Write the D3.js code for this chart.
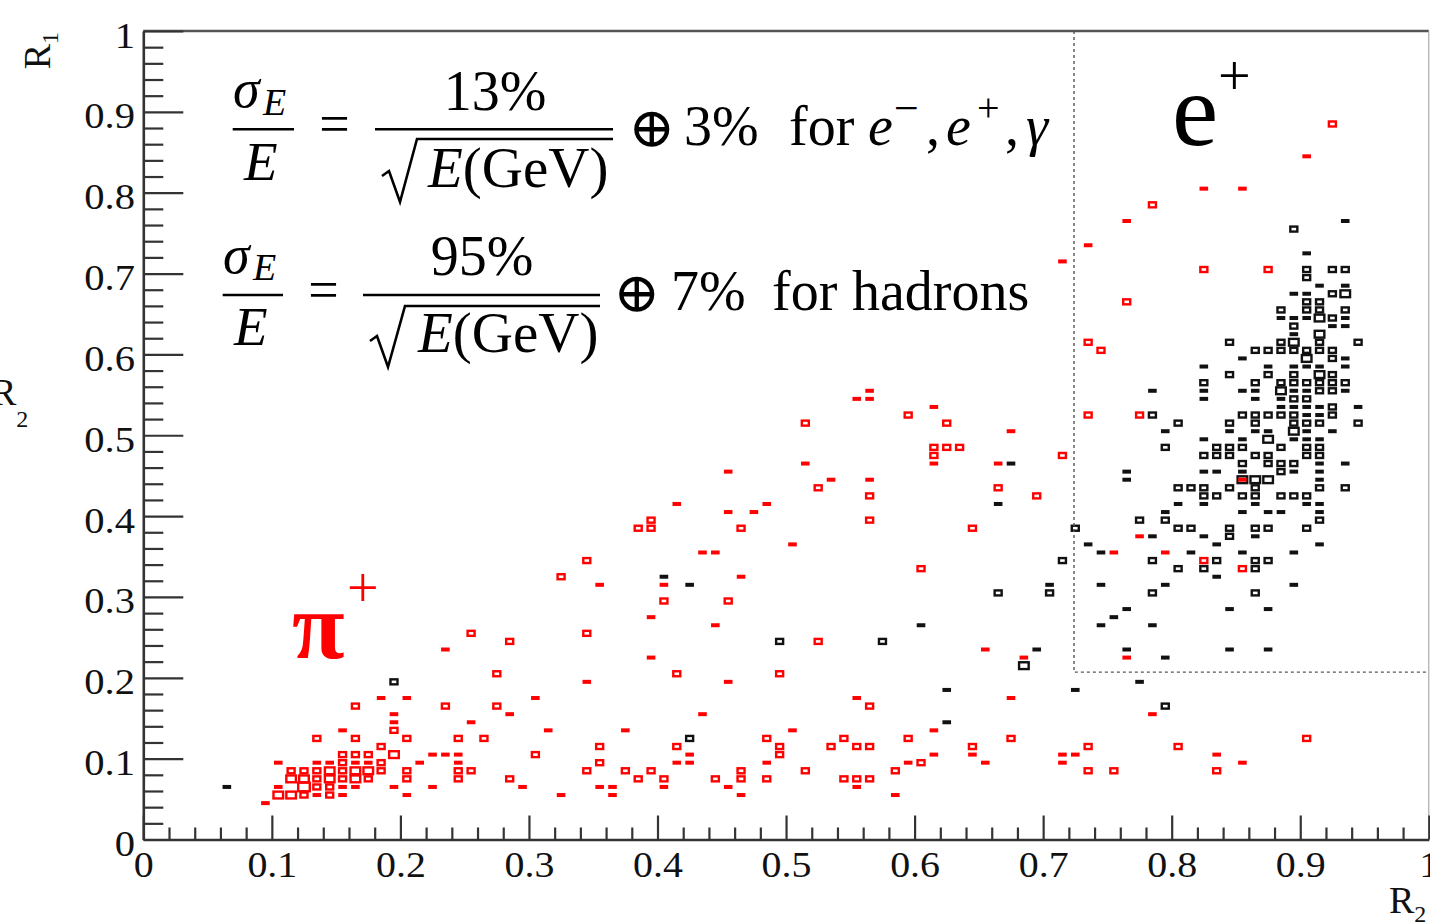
<!DOCTYPE html>
<html>
<head>
<meta charset="utf-8">
<script src="https://cdn.jsdelivr.net/npm/d3@7"></script>
<style>
  html, body { margin: 0; padding: 0; background: #fff; overflow: hidden; }
  svg { display: block; font-family: "Liberation Serif", "Times New Roman", serif; }
</style>
</head>
<body>
<svg id="chart" width="1430" height="922"></svg>
<script>
// 2D histogram, 100 x 100 bins on [0,1] x [0,1]; each entry = [R2 bin low edge, R1 bin low edge, entries]
const binWidth = 0.01;

const majorTicks = [0, 0.1, 0.2, 0.3, 0.4, 0.5, 0.6, 0.7, 0.8, 0.9, 1];
const xTickLabels = ["0", "0.1", "0.2", "0.3", "0.4", "0.5", "0.6", "0.7", "0.8", "0.9", "1"];
const yTickLabels = ["0", "0.1", "0.2", "0.3", "0.4", "0.5", "0.6", "0.7", "0.8", "0.9", "1"];

// pi+ (red)
const pionBins = [
  [0.25,0.25,2],[0.23,0.23,1],[0.23,0.16,2],[0.25,0.14,1],[0.18,0.17,1],[0.20,0.17,1],[0.16,0.16,2],
  [0.19,0.15,1],[0.19,0.14,1],[0.19,0.13,2],[0.15,0.13,1],[0.13,0.12,2],[0.16,0.12,2],[0.20,0.12,2],
  [0.24,0.12,2],[0.26,0.12,2],[0.27,0.16,2],[0.18,0.11,2],
  [0.15,0.10,2],[0.16,0.10,2],[0.17,0.10,2],[0.19,0.10,3],[0.22,0.10,1],[0.23,0.10,1],[0.24,0.10,1],
  [0.10,0.09,1],[0.13,0.09,1],[0.14,0.09,1],[0.15,0.09,2],[0.16,0.09,1],[0.17,0.09,1],[0.18,0.09,2],
  [0.21,0.09,1],[0.24,0.09,1],
  [0.11,0.08,2],[0.12,0.08,2],[0.13,0.08,2],[0.14,0.08,3],[0.15,0.08,2],[0.16,0.08,3],[0.17,0.08,3],
  [0.18,0.08,2],[0.20,0.08,2],[0.24,0.08,2],[0.25,0.08,2],
  [0.11,0.07,3],[0.12,0.07,3],[0.13,0.07,2],[0.14,0.07,3],[0.15,0.07,2],[0.16,0.07,3],[0.17,0.07,2],
  [0.20,0.07,2],[0.24,0.07,2],
  [0.10,0.06,1],[0.12,0.06,4],[0.13,0.06,2],[0.14,0.06,2],[0.15,0.06,1],[0.16,0.06,1],[0.19,0.06,1],
  [0.22,0.06,1],
  [0.10,0.05,3],[0.11,0.05,3],[0.12,0.05,2],[0.13,0.05,1],[0.14,0.05,2],[0.15,0.05,1],[0.20,0.05,1],
  [0.09,0.04,1],
  [0.45,0.45,1],[0.41,0.41,1],[0.45,0.40,1],[0.47,0.40,1],[0.39,0.39,2],[0.38,0.38,2],[0.39,0.38,2],
  [0.46,0.38,2],[0.43,0.35,1],[0.44,0.35,1],[0.34,0.34,2],[0.32,0.32,2],[0.35,0.31,1],[0.40,0.31,1],
  [0.46,0.32,1],[0.40,0.29,2],[0.45,0.29,2],[0.39,0.27,1],[0.44,0.26,1],[0.34,0.25,2],[0.28,0.24,2],
  [0.39,0.22,1],[0.27,0.20,2],[0.41,0.20,2],[0.34,0.19,1],[0.45,0.19,1],[0.30,0.17,1],[0.28,0.15,1],
  [0.43,0.15,1],[0.31,0.13,1],[0.37,0.13,1],[0.35,0.11,2],[0.41,0.11,2],[0.30,0.10,2],[0.42,0.10,1],
  [0.35,0.09,2],[0.41,0.09,1],[0.42,0.09,1],[0.34,0.08,2],[0.37,0.08,2],[0.39,0.08,2],[0.46,0.08,2],
  [0.28,0.07,2],[0.38,0.07,2],[0.40,0.07,2],[0.44,0.07,2],[0.46,0.07,2],[0.29,0.06,1],[0.35,0.06,1],
  [0.36,0.06,1],[0.40,0.06,1],[0.45,0.06,1],[0.32,0.05,1],[0.36,0.05,1],[0.46,0.05,1],
  [0.56,0.55,1],[0.55,0.54,1],[0.56,0.54,1],[0.61,0.53,1],[0.59,0.52,2],[0.51,0.51,2],[0.62,0.51,2],
  [0.67,0.50,1],[0.61,0.48,2],[0.62,0.48,2],[0.63,0.48,2],[0.61,0.47,2],[0.71,0.47,2],[0.51,0.46,1],
  [0.61,0.46,1],[0.66,0.46,1],[0.53,0.44,1],[0.56,0.44,1],[0.52,0.43,2],[0.66,0.43,2],[0.56,0.42,2],
  [0.69,0.42,2],[0.48,0.41,1],[0.56,0.39,2],[0.64,0.38,2],[0.50,0.36,1],[0.60,0.33,2],[0.52,0.24,2],
  [0.65,0.23,1],[0.68,0.22,1],[0.49,0.20,2],[0.55,0.17,1],[0.67,0.17,1],[0.56,0.16,2],[0.50,0.13,1],
  [0.61,0.13,1],[0.48,0.12,2],[0.54,0.12,2],[0.59,0.12,2],[0.67,0.12,2],[0.49,0.11,2],[0.53,0.11,2],
  [0.55,0.11,2],[0.56,0.11,2],[0.64,0.11,2],[0.49,0.10,2],[0.61,0.10,1],[0.64,0.10,1],[0.71,0.10,1],
  [0.72,0.10,1],[0.48,0.09,1],[0.59,0.09,1],[0.60,0.09,2],[0.65,0.09,1],[0.71,0.09,1],[0.51,0.08,2],
  [0.58,0.08,2],[0.48,0.07,2],[0.54,0.07,2],[0.55,0.07,2],[0.56,0.07,2],[0.55,0.06,1],[0.58,0.05,1],
  [0.73,0.11,2],[0.73,0.08,2],[0.75,0.08,2],[0.78,0.15,1],[0.80,0.11,2],[0.83,0.10,1],[0.83,0.08,2],
  [0.85,0.09,1],[0.90,0.12,2],
  [0.92,0.88,2],[0.90,0.84,1],[0.82,0.80,1],[0.85,0.80,1],[0.78,0.78,2],[0.76,0.76,1],[0.73,0.73,1],
  [0.71,0.71,1],[0.82,0.70,2],[0.87,0.70,2],[0.76,0.66,2],[0.73,0.61,2],[0.74,0.60,2],[0.73,0.52,2],
  [0.77,0.52,2],[0.77,0.37,1],[0.75,0.35,1],[0.79,0.35,1],[0.82,0.34,2],[0.85,0.33,2],[0.76,0.22,1],
  [0.85,0.44,1]
];

// e+ (black)
const positronBins = [
  [0.06,0.06,1],[0.19,0.19,2],[0.40,0.32,1],[0.42,0.31,1],[0.42,0.12,2],[0.49,0.24,2],[0.57,0.24,2],
  [0.60,0.26,1],[0.62,0.18,1],[0.62,0.14,1],[0.66,0.30,2],[0.70,0.31,1],[0.70,0.30,2],[0.71,0.34,2],
  [0.72,0.38,2],[0.66,0.41,1],[0.67,0.46,1],[0.69,0.23,1],[0.68,0.21,3],[0.72,0.18,1],[0.79,0.16,2],
  [0.77,0.19,1],
  [0.89,0.75,2],[0.93,0.76,1],[0.90,0.72,1],[0.90,0.70,2],[0.92,0.70,2],[0.93,0.70,2],[0.90,0.69,2],
  [0.91,0.68,1],[0.93,0.68,1],[0.89,0.67,1],[0.90,0.67,1],[0.92,0.67,2],[0.93,0.67,3],[0.90,0.66,2],
  [0.91,0.66,2],
  [0.88,0.65,2],[0.90,0.65,2],[0.91,0.65,2],[0.93,0.65,2],
  [0.88,0.64,1],[0.89,0.64,1],[0.90,0.64,1],[0.91,0.64,3],[0.92,0.64,2],[0.93,0.64,1],
  [0.89,0.63,2],[0.92,0.63,1],[0.93,0.63,1],
  [0.89,0.62,1],[0.91,0.62,3],
  [0.84,0.61,2],[0.88,0.61,2],[0.89,0.61,3],[0.91,0.61,2],[0.94,0.61,2],
  [0.86,0.60,2],[0.87,0.60,2],[0.88,0.60,2],[0.89,0.60,2],[0.90,0.60,2],[0.91,0.60,2],[0.92,0.60,2],
  [0.85,0.59,1],[0.90,0.59,3],[0.92,0.59,2],[0.93,0.59,1],
  [0.82,0.58,1],[0.87,0.58,1],[0.89,0.58,1],[0.90,0.58,1],[0.91,0.58,1],[0.93,0.58,1],
  [0.84,0.57,2],[0.87,0.57,2],[0.89,0.57,2],[0.91,0.57,3],[0.92,0.57,2],
  [0.82,0.56,2],[0.86,0.56,2],[0.88,0.56,2],[0.89,0.56,2],[0.90,0.56,2],[0.91,0.56,2],[0.92,0.56,2],
  [0.93,0.56,2],
  [0.78,0.55,1],[0.82,0.55,1],[0.85,0.55,1],[0.86,0.55,1],[0.88,0.55,3],[0.89,0.55,1],[0.90,0.55,1],
  [0.91,0.55,2],[0.92,0.55,2],[0.93,0.55,1],
  [0.82,0.54,1],[0.86,0.54,1],[0.88,0.54,1],[0.89,0.54,2],[0.90,0.54,2],
  [0.88,0.53,1],[0.89,0.53,1],[0.90,0.53,1],[0.91,0.53,1],[0.92,0.53,2],[0.94,0.53,1],
  [0.78,0.52,2],[0.85,0.52,2],[0.86,0.52,2],[0.87,0.52,2],[0.88,0.52,2],[0.89,0.52,2],[0.90,0.52,1],
  [0.91,0.52,1],[0.92,0.52,2],
  [0.80,0.51,2],[0.84,0.51,2],[0.86,0.51,2],[0.89,0.51,2],[0.90,0.51,2],[0.91,0.51,2],[0.94,0.51,2],
  [0.79,0.50,1],[0.84,0.50,1],[0.86,0.50,1],[0.87,0.50,1],[0.89,0.50,3],[0.90,0.50,1],[0.92,0.50,1],
  [0.82,0.49,1],[0.85,0.49,1],[0.87,0.49,3],[0.89,0.49,1],[0.90,0.49,1],[0.91,0.49,1],
  [0.79,0.48,2],[0.83,0.48,2],[0.84,0.48,2],[0.85,0.48,2],[0.88,0.48,2],[0.90,0.48,2],[0.91,0.48,2],
  [0.82,0.47,2],[0.83,0.47,2],[0.84,0.47,2],[0.86,0.47,2],[0.87,0.47,2],[0.90,0.47,2],[0.91,0.47,2],
  [0.85,0.46,2],[0.87,0.46,2],[0.88,0.46,2],[0.89,0.46,2],[0.91,0.46,1],[0.93,0.46,1],
  [0.76,0.45,1],[0.82,0.45,1],[0.83,0.45,1],[0.85,0.45,1],[0.88,0.45,2],[0.89,0.45,1],[0.91,0.45,1],
  [0.76,0.44,1],[0.85,0.44,3],[0.86,0.44,3],[0.87,0.44,3],[0.91,0.44,1],
  [0.80,0.43,2],[0.81,0.43,2],[0.82,0.43,2],[0.84,0.43,2],[0.86,0.43,2],[0.91,0.43,2],[0.93,0.43,2],
  [0.82,0.42,2],[0.83,0.42,2],[0.85,0.42,2],[0.86,0.42,2],[0.88,0.42,2],[0.89,0.42,2],[0.90,0.42,2],
  [0.80,0.41,1],[0.82,0.41,1],[0.86,0.41,1],[0.90,0.41,1],[0.91,0.41,1],
  [0.79,0.40,1],[0.85,0.40,1],[0.87,0.40,1],[0.88,0.40,1],[0.91,0.40,1],
  [0.77,0.39,2],[0.79,0.39,2],[0.91,0.39,2],
  [0.80,0.38,2],[0.81,0.38,2],[0.84,0.38,2],[0.86,0.38,2],[0.87,0.38,2],[0.90,0.38,2],
  [0.78,0.37,1],[0.82,0.37,1],[0.84,0.37,2],[0.86,0.37,1],
  [0.73,0.36,1],[0.83,0.36,1],[0.91,0.36,1],
  [0.74,0.35,1],[0.81,0.35,1],[0.85,0.35,1],[0.89,0.35,1],
  [0.78,0.34,2],[0.83,0.34,2],[0.86,0.34,2],[0.87,0.34,2],
  [0.80,0.33,2],[0.82,0.33,2],[0.86,0.33,2],
  [0.83,0.32,1],
  [0.74,0.31,1],[0.79,0.31,1],[0.89,0.31,1],
  [0.78,0.30,2],[0.86,0.30,2],
  [0.76,0.28,1],[0.84,0.28,1],[0.87,0.28,1],
  [0.75,0.27,1],
  [0.74,0.26,1],[0.78,0.26,1],
  [0.76,0.23,1],[0.84,0.23,1],[0.87,0.23,1],
  [0.79,0.22,1]
];

// selection cut drawn as dotted box
const cutR2 = 0.724;
const cutR1 = 0.207;

const svg = d3.select("#chart");

const x = d3.scaleLinear().domain([0, 1]).range([143.3, 1428.8]);
const y = d3.scaleLinear().domain([0, 1]).range([839.5, 31]);

// box size grows with bin content (ROOT "box" draw option)
const boxW = d3.scaleLinear().domain([1, 2, 3, 4]).range([6.2, 7.0, 9.6, 11.6]);
const boxH = d3.scaleLinear().domain([1, 2, 3, 4]).range([1.6, 5.0, 6.8, 8.6]);

function drawBoxes(data, color) {
  svg.append("g")
    .selectAll("rect")
    .data(data)
    .enter()
    .append("rect")
    .attr("x", d => x(d[0] + binWidth / 2) - boxW(d[2]) / 2)
    .attr("y", d => y(d[1] + binWidth / 2) - boxH(d[2]) / 2)
    .attr("width", d => boxW(d[2]))
    .attr("height", d => boxH(d[2]))
    .attr("fill", "none")
    .attr("stroke", color)
    .attr("stroke-width", 2.4);
}

drawBoxes(positronBins, "#111");
drawBoxes(pionBins, "#ff0000");

// dotted cut region
svg.append("path")
  .attr("d", `M${x(cutR2)},${y(1)}V${y(cutR1)}H${x(1)}`)
  .attr("fill", "none")
  .attr("stroke", "#555")
  .attr("stroke-width", 1.4)
  .attr("stroke-dasharray", "3,3");

// frame top / right
svg.append("line")
  .attr("x1", x(0)).attr("x2", x(1)).attr("y1", y(1)).attr("y2", y(1))
  .attr("stroke", "#555").attr("stroke-width", 2.5);
svg.append("line")
  .attr("x1", x(1)).attr("x2", x(1)).attr("y1", y(1)).attr("y2", y(0))
  .attr("stroke", "#999").attr("stroke-width", 1);

// minor ticks every 0.02
const minorTicks = d3.range(0, 51).filter(i => i % 5 !== 0).map(i => i / 50);

svg.append("g")
  .attr("transform", `translate(${x(0)},0)`)
  .call(d3.axisLeft(y).tickValues(minorTicks).tickSizeInner(-20).tickSizeOuter(0).tickFormat(""))
  .call(g => g.select(".domain").remove())
  .selectAll("line").attr("stroke", "#333").attr("stroke-width", 2.2);

svg.append("g")
  .attr("transform", `translate(0,${y(0)})`)
  .call(d3.axisBottom(x).tickValues(minorTicks).tickSizeInner(-12).tickSizeOuter(0).tickFormat(""))
  .call(g => g.select(".domain").remove())
  .selectAll("line").attr("stroke", "#333").attr("stroke-width", 2.2);

// major ticks + labels
const yAxis = svg.append("g")
  .attr("transform", `translate(${x(0)},0)`)
  .call(d3.axisLeft(y).tickValues(majorTicks).tickSizeInner(-40).tickSizeOuter(0)
    .tickPadding(7.2).tickFormat((d, i) => yTickLabels[i]));

yAxis.select(".domain").attr("stroke", "#333").attr("stroke-width", 2.6);
yAxis.selectAll("line").attr("stroke", "#333").attr("stroke-width", 2.2);
yAxis.selectAll("text")
  .attr("font-family", "Liberation Serif, serif")
  .attr("font-size", 35)
  .attr("fill", "#111")
  .attr("dy", 16)
  .attr("transform", "scale(1.16,1)");

const xAxis = svg.append("g")
  .attr("transform", `translate(0,${y(0)})`)
  .call(d3.axisBottom(x).tickValues(majorTicks).tickSizeInner(-24).tickSizeOuter(0)
    .tickPadding(12.5).tickFormat((d, i) => xTickLabels[i]));

xAxis.select(".domain").attr("stroke", "#333").attr("stroke-width", 2.6);
xAxis.selectAll("line").attr("stroke", "#333").attr("stroke-width", 2.2);
xAxis.selectAll("text")
  .attr("font-family", "Liberation Serif, serif")
  .attr("font-size", 35)
  .attr("fill", "#111")
  .attr("transform", "scale(1.14,1)");

// axis titles
const r1 = svg.append("text")
  .attr("transform", `translate(50,${y(1) + 1}) rotate(-90)`)
  .attr("text-anchor", "end")
  .attr("font-size", 38)
  .attr("fill", "#111");
r1.append("tspan").text("R");
r1.append("tspan").attr("font-size", 24).attr("dy", 8).text("1");

const r2 = svg.append("text")
  .attr("x", 1389)
  .attr("y", 913)
  .attr("font-size", 38)
  .attr("fill", "#111");
r2.append("tspan").text("R");
r2.append("tspan").attr("font-size", 24).attr("dy", 9).text("2");

// stray label from the neighbouring panel, cut by the left edge
const r2Side = svg.append("text")
  .attr("x", -9)
  .attr("y", 405)
  .attr("font-size", 38)
  .attr("fill", "#111");
r2Side.append("tspan").text("R");
r2Side.append("tspan").attr("font-size", 24).attr("dy", 22).text("2");

// ---- resolution formulas ----
const formula = svg.append("g").attr("fill", "#000");

function txt(str, px, py, size, opts = {}) {
  return formula.append("text")
    .attr("x", px)
    .attr("y", py)
    .attr("font-size", size)
    .attr("font-style", opts.italic ? "italic" : "normal")
    .attr("text-anchor", opts.anchor || "start")
    .attr("font-family", opts.family || "Liberation Serif, serif")
    .text(str);
}

function bar(x1, x2, yy) {
  formula.append("line")
    .attr("x1", x1).attr("x2", x2).attr("y1", yy).attr("y2", yy)
    .attr("stroke", "#000").attr("stroke-width", 2.6);
}

function radical(x0, yTop, yBot, x2) {
  formula.append("path")
    .attr("d", `M${x0},${yBot - 26}L${x0 + 7},${yBot - 31}L${x0 + 18},${yBot}L${x0 + 35},${yTop}H${x2}`)
    .attr("fill", "none")
    .attr("stroke", "#000")
    .attr("stroke-width", 2.6)
    .attr("stroke-linejoin", "miter");
}

// line 1
txt("σ", 233, 107, 54, { italic: true });
txt("E", 263, 115, 38, { italic: true });
bar(232.7, 294, 129.3);
txt("E", 244, 180, 55, { italic: true });
txt("=", 334.5, 142, 54, { anchor: "middle" });
txt("13%", 495, 110, 56, { anchor: "middle" });
bar(375, 613, 129.3);
radical(382, 139, 202, 613);
const den1 = formula.append("text").attr("x", 428).attr("y", 187).attr("font-size", 57);
den1.append("tspan").attr("font-style", "italic").text("E");
den1.append("tspan").text("(GeV)");
txt("⊕", 652, 147, 56, { anchor: "middle", family: "DejaVu Serif, serif" });
txt("3%", 684, 145, 56);
txt("for", 789, 145, 56);
txt("e", 868, 145, 56, { italic: true });
txt("−", 894, 123, 44);
txt(",", 926, 145, 56);
txt("e", 946, 145, 56, { italic: true });
txt("+", 977, 121, 40);
txt(",", 1005, 145, 56);
txt("γ", 1026, 145, 56, { italic: true });

// line 2
txt("σ", 223, 273, 54, { italic: true });
txt("E", 253, 280, 38, { italic: true });
bar(222.7, 283, 295);
txt("E", 234, 345, 55, { italic: true });
txt("=", 323.5, 308, 54, { anchor: "middle" });
txt("95%", 482, 275, 56, { anchor: "middle" });
bar(363, 600, 295);
radical(370, 306, 367, 600);
const den2 = formula.append("text").attr("x", 418).attr("y", 352).attr("font-size", 57);
den2.append("tspan").attr("font-style", "italic").text("E");
den2.append("tspan").text("(GeV)");
txt("⊕", 637, 312, 56, { anchor: "middle", family: "DejaVu Serif, serif" });
txt("7%", 671, 310, 56);
txt("for", 772, 310, 56);
txt("hadrons", 852, 310, 56);

// particle labels
svg.append("text").attr("x", 1172).attr("y", 145).attr("font-size", 104).attr("fill", "#000").text("e");
svg.append("text").attr("x", 1218).attr("y", 95).attr("font-size", 58).attr("fill", "#000").text("+");

svg.append("text").attr("x", 292).attr("y", 658).attr("font-size", 96).attr("font-weight", "bold")
  .attr("fill", "#ff0000").text("π");
svg.append("text").attr("x", 347).attr("y", 607).attr("font-size", 56).attr("fill", "#ff0000").text("+");
</script>
</body>
</html>
